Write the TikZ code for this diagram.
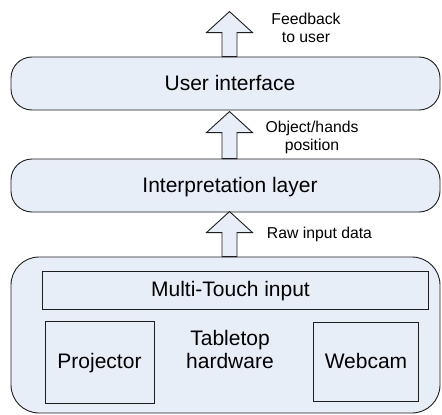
\documentclass[tikz,border=0pt]{standalone}
\usepackage{fontspec}
\setmainfont{Liberation Sans}
\definecolor{boxfill}{RGB}{232,238,248}
\definecolor{edge}{RGB}{30,30,30}
\tikzset{
  layerbox/.style={draw=edge, fill=boxfill, line width=0.9pt, rounded corners=21pt, minimum width=429pt, minimum height=53pt, inner sep=0pt},
  hwbox/.style={draw=edge, fill=boxfill, line width=0.9pt, rounded corners=28pt, minimum width=429pt, minimum height=156pt, inner sep=0pt},
  partbox/.style={draw=edge, line width=0.9pt, inner sep=0pt},
  bigtext/.style={font=\fontsize{21}{23}\selectfont, inner sep=0pt, anchor=base},
  smalltext/.style={font=\fontsize{15.75}{18}\selectfont, inner sep=0pt, align=center},
  blockarrow/.style={draw=edge, fill=boxfill, line width=0.9pt, line join=miter}
}
\newcommand{\blkarrow}[2]{% #1 = name of base coordinate, #2 = shaft length
  \draw[blockarrow] (#1) ++(-7.5,0) -- ++(0,-#2) -- ++(-15.5,0) -- ++(23,-21) -- ++(23,21) -- ++(-15.5,0) -- ++(0,#2) -- cycle;}
\begin{document}
\begin{tikzpicture}[x=1pt, y=-1pt]
\useasboundingbox (0,0) rectangle (442,415);
% layers
\node[layerbox] (ui) at (225.5,83.5) {};
\node[layerbox] (il) at (225.5,185.5) {};
\node[hwbox] (hw) at (225.5,335) {};
% inner parts
\node[partbox, minimum width=386pt, minimum height=38pt] (mt) at (235,290) {};
\node[partbox, minimum width=109pt, minimum height=82pt] (pj) at (99.5,362) {};
\node[partbox, minimum width=105pt, minimum height=79pt] (wc) at (365.5,361.5) {};
% texts
\node[bigtext] (uit) at (230,90.7) {User interface};
\node[bigtext] (ilt) at (230,192.7) {Interpretation layer};
\node[bigtext] (mtt) at (230.5,296.7) {Multi-Touch input};
\node[bigtext] (pjt) at (99.5,368.5) {Projector};
\node[bigtext] (wct) at (366,368.5) {Webcam};
\node[bigtext] (tb1) at (230,345.7) {Tabletop};
\node[bigtext] (tb2) at (230,368.5) {hardware};
% arrows
\path (ui.north) ++(4,0) coordinate (a1);
\path (il.north) ++(4,0) coordinate (a2);
\path (hw.north) ++(4,0) coordinate (a3);
\blkarrow{a1}{24}
\blkarrow{a2}{26}
\blkarrow{a3}{24}
% arrow labels
\node[smalltext, anchor=base] (l1) at (306,42) {Feedback\\to user};
\node[smalltext, anchor=base] (l2) at (312,150.5) {Object/hands\\position};
\node[smalltext, anchor=base west] (l3) at (266.7,238.3) {Raw input data};
\end{tikzpicture}
\end{document}
